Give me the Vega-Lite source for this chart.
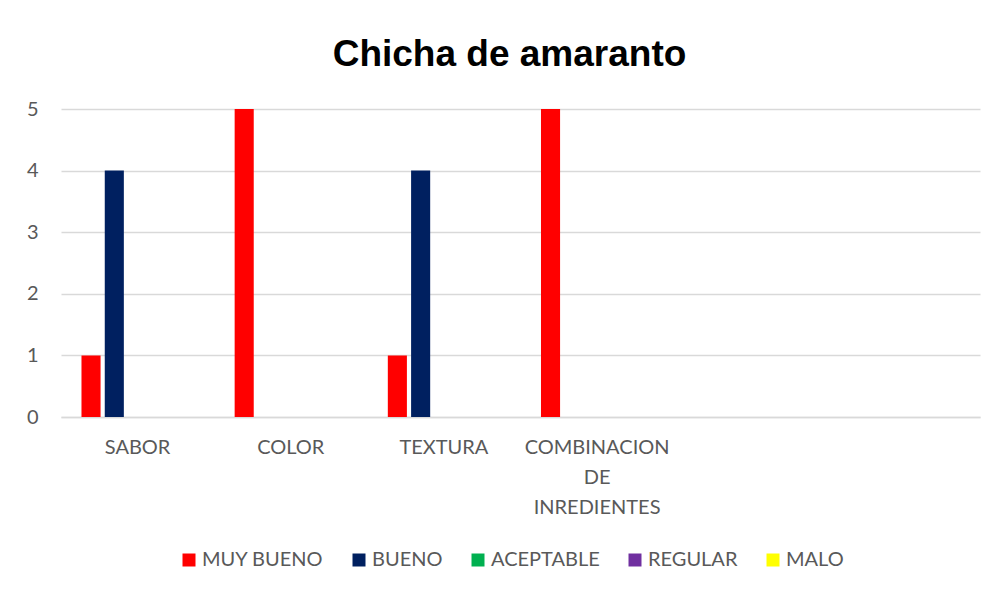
{
  "$schema": "https://vega.github.io/schema/vega-lite/v6.json",
  "width": 919,
  "height": 308,
  "autosize": {"type": "none"},
  "padding": {"left": 61, "top": 109, "right": 16, "bottom": 174},
  "background": "white",
  "title": {
    "text": "Chicha de amaranto",
    "font": "Liberation Sans",
    "fontSize": 37,
    "fontWeight": "bold",
    "color": "#000000",
    "anchor": "middle",
    "dx": -11,
    "offset": 25
  },
  "data": {
    "values": [
      {"categoria": "SABOR", "calificacion": "MUY BUENO", "valor": 1},
      {"categoria": "SABOR", "calificacion": "BUENO", "valor": 4},
      {"categoria": "SABOR", "calificacion": "ACEPTABLE", "valor": 0},
      {"categoria": "SABOR", "calificacion": "REGULAR", "valor": 0},
      {"categoria": "SABOR", "calificacion": "MALO", "valor": 0},
      {"categoria": "COLOR", "calificacion": "MUY BUENO", "valor": 5},
      {"categoria": "COLOR", "calificacion": "BUENO", "valor": 0},
      {"categoria": "COLOR", "calificacion": "ACEPTABLE", "valor": 0},
      {"categoria": "COLOR", "calificacion": "REGULAR", "valor": 0},
      {"categoria": "COLOR", "calificacion": "MALO", "valor": 0},
      {"categoria": "TEXTURA", "calificacion": "MUY BUENO", "valor": 1},
      {"categoria": "TEXTURA", "calificacion": "BUENO", "valor": 4},
      {"categoria": "TEXTURA", "calificacion": "ACEPTABLE", "valor": 0},
      {"categoria": "TEXTURA", "calificacion": "REGULAR", "valor": 0},
      {"categoria": "TEXTURA", "calificacion": "MALO", "valor": 0},
      {"categoria": "COMBINACION DE INREDIENTES", "calificacion": "MUY BUENO", "valor": 5},
      {"categoria": "COMBINACION DE INREDIENTES", "calificacion": "BUENO", "valor": 0},
      {"categoria": "COMBINACION DE INREDIENTES", "calificacion": "ACEPTABLE", "valor": 0},
      {"categoria": "COMBINACION DE INREDIENTES", "calificacion": "REGULAR", "valor": 0},
      {"categoria": "COMBINACION DE INREDIENTES", "calificacion": "MALO", "valor": 0}
    ]
  },
  "mark": {"type": "bar"},
  "encoding": {
    "x": {
      "field": "categoria",
      "type": "nominal",
      "sort": null,
      "scale": {
        "domain": ["SABOR", "COLOR", "TEXTURA", "COMBINACION DE INREDIENTES", " ", "  "],
        "paddingInner": 0,
        "paddingOuter": 0
      },
      "axis": {
        "title": null,
        "labelAngle": 0,
        "labelFont": "Lato",
        "labelFontSize": 20,
        "labelColor": "#595959",
        "labelPadding": 30,
        "labelLineHeight": 30,
        "labelBaseline": "middle",
        "labelExpr": "datum.label == 'COMBINACION DE INREDIENTES' ? ['COMBINACION', 'DE', 'INREDIENTES'] : datum.label",
        "ticks": false,
        "domainColor": "#d9d9d9",
        "domainWidth": 1.5,
        "grid": false
      }
    },
    "xOffset": {
      "field": "calificacion",
      "type": "nominal",
      "scale": {
        "domain": ["MUY BUENO", "BUENO", "ACEPTABLE", "REGULAR", "MALO"],
        "paddingInner": 0.18,
        "paddingOuter": 0.88
      }
    },
    "y": {
      "field": "valor",
      "type": "quantitative",
      "scale": {"domain": [0, 5], "nice": false},
      "axis": {
        "title": null,
        "values": [0, 1, 2, 3, 4, 5],
        "labelFont": "Lato",
        "labelFontSize": 20,
        "labelColor": "#595959",
        "labelPadding": 23,
        "ticks": false,
        "domain": false,
        "gridColor": "#d9d9d9",
        "gridWidth": 1.5
      }
    },
    "color": {
      "field": "calificacion",
      "type": "nominal",
      "scale": {
        "domain": ["MUY BUENO", "BUENO", "ACEPTABLE", "REGULAR", "MALO"],
        "range": ["#FF0000", "#002060", "#00B050", "#7030A0", "#FFFF00"]
      },
      "legend": {
        "title": null,
        "orient": "none",
        "direction": "horizontal",
        "legendX": 118,
        "legendY": 441,
        "symbolType": "square",
        "symbolSize": 169,
        "symbolStrokeWidth": 0,
        "labelFont": "Lato",
        "labelFontSize": 20,
        "labelColor": "#595959",
        "labelOffset": 3,
        "columnPadding": 25
      }
    }
  },
  "config": {
    "view": {"stroke": null}
  }
}
